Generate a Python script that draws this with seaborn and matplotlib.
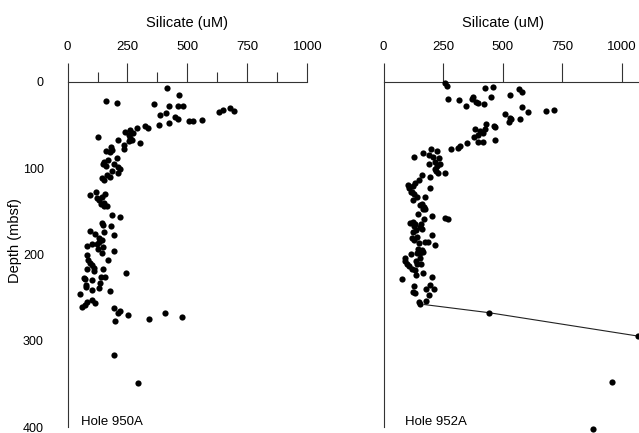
import numpy as np
import pandas as pd
import matplotlib
matplotlib.use("Agg")
import matplotlib.pyplot as plt
import matplotlib.transforms as mtransforms
from matplotlib.ticker import MultipleLocator, NullFormatter
import seaborn as sns

# ---- Data: Hole 950A ----
si_950 = [415, 464, 160, 208, 361, 424, 460, 481, 386, 411, 447, 460, 507, 524, 562, 631, 647, 678, 692,
          422, 382, 289, 321, 335, 239, 262, 271, 255, 129, 211, 262, 255, 269, 301, 235, 237, 180, 161,
          179, 185, 205, 154, 149, 161, 168, 193, 210, 186, 212, 217, 144, 165, 176, 154, 92, 120, 121,
          130, 145, 158, 154, 151, 164, 140, 186, 217, 143, 146, 182, 92, 115, 193, 151, 130, 142, 132,
          128, 146, 145, 121, 104, 82, 82, 193, 170, 87, 93, 103, 110, 112, 82, 70, 71, 104, 149, 139,
          158, 135, 132, 79, 75, 103, 176, 245, 53, 62, 71, 82, 103, 114, 193, 210, 218, 251, 199, 338,
          405, 476, 192, 294]
depth_950 = [6.6, 15.5, 21.6, 24, 25.5, 28.2, 27.8, 27.8, 38.6, 36.3, 40.6, 42.9, 45.6, 45.2, 44, 35, 32.5,
             29.8, 34, 47.5, 50.2, 53, 51, 53, 58, 56, 59.5, 61.4, 63.4, 67, 65, 68.4, 67, 71, 73, 78, 75.7,
             79.6, 81, 78.8, 87.7, 93, 95.4, 97.4, 90.4, 95, 99, 102.8, 105, 101, 111.7, 108.2, 110, 113.6,
             131, 128, 134.9, 136.8, 133.3, 130, 140.7, 143.8, 143.4, 141.8, 154.6, 156, 163.8, 165.4,
             167.3, 172.4, 176, 177, 174, 181, 183, 186, 193.6, 191, 198, 188, 188, 190, 200.6, 195.6, 206,
             206, 209.5, 212, 215.7, 218.8, 217, 227, 228.8, 229.6, 217, 225.7, 225.7, 233, 238.8, 235.7,
             237.3, 241, 242, 221, 245.4, 260.5, 258, 255, 252.8, 256.6, 262.4, 268, 265.9, 270, 277.5,
             275, 267.4, 273, 317, 348.6]

# ---- Data: Hole 952A ----
si_952 = [259, 266, 426, 459, 569, 583, 529, 450, 269, 316, 375, 371, 388, 396, 345, 423, 580, 605, 681,
          717, 508, 531, 537, 525, 573, 430, 463, 469, 382, 403, 419, 424, 378, 398, 416, 398, 469, 350,
          321, 311, 283, 200, 224, 164, 127, 190, 207, 232, 193, 216, 224, 235, 214, 221, 230, 258, 162,
          148, 196, 101, 105, 123, 133, 195, 120, 130, 115, 176, 123, 141, 162, 169, 155, 175, 165, 146,
          171, 203, 259, 272, 112, 123, 133, 127, 154, 138, 122, 157, 163, 203, 119, 126, 140, 176, 186,
          151, 217, 144, 163, 155, 139, 115, 164, 92, 92, 98, 106, 118, 137, 153, 140, 158, 134, 137, 164,
          77, 203, 129, 123, 133, 196, 179, 190, 211, 147, 155, 178, 441, 1066, 958, 877]
depth_952 = [1.5, 4.3, 6.6, 6.1, 8.5, 12, 14.7, 17, 19.3, 21.3, 17, 19.3, 23.2, 24.7, 27.8, 25.9, 28.6, 35.2,
             33.6, 32.5, 37.5, 42, 43.3, 46.4, 42.5, 48.7, 51, 52.2, 54.5, 56.4, 58.8, 54.8, 64, 61.4, 69.2,
             69.2, 66.9, 71, 74.2, 76.2, 78, 77.7, 79.6, 82.3, 86.6, 84.6, 86.6, 88, 95, 92.8, 97.4, 94.7,
             101, 102.8, 105, 105, 108, 113.6, 110.5, 119.4, 122.5, 120.2, 117.5, 123.3, 127, 130, 127, 133,
             136.8, 133.7, 141.4, 144.6, 143, 147.2, 146.9, 153, 159, 155, 157.7, 159, 163, 162.3, 164.6,
             167, 167.8, 171.6, 174, 164.6, 170, 177, 181, 183, 180, 185.9, 185.5, 186.3, 189.4, 193.6,
             194.8, 198, 198.6, 199, 197, 203.7, 207.5, 211, 213.7, 216.8, 207, 204.4, 211, 211.4, 218, 224,
             221.4, 228.4, 226.5, 237, 243, 245, 235, 239.7, 247.3, 240.4, 254.7, 257.4, 254.3, 267.4, 294.5,
             348, 402.7]

# connecting line (Hole 952A)
line_si_952 = [170, 441, 1066]
line_depth_952 = [258, 267.4, 294.5]

x_ticks = [0, 250, 500, 750, 1000]
y_ticks = [0, 100, 200, 300, 400]
x_title = "Silicate (uM)"
y_title = "Depth (mbsf)"
hole_labels = ["Hole 950A", "Hole 952A"]

df950 = pd.DataFrame({"si": si_950, "depth": depth_950})
df952 = pd.DataFrame({"si": si_952, "depth": depth_952})
dfline = pd.DataFrame({"si": line_si_952, "depth": line_depth_952})

sns.set_style("white")
plt.rcParams['font.family'] = ['Liberation Sans', 'DejaVu Sans']

W, H = 639, 433
fig = plt.figure(figsize=(W / 100, H / 100), dpi=100)
fig.patch.set_facecolor("white")

ax1 = fig.add_axes([67.5 / W, 6 / H, 240 / W, 345 / H])
ax2 = fig.add_axes([383.5 / W, 6 / H, 255.5 / W, 345 / H])

spine_col = "#333333"
for ax in (ax1, ax2):
    ax.set_facecolor("none")

sns.scatterplot(data=df950, x="si", y="depth", ax=ax1, color="black", s=20,
                linewidth=0, clip_on=False, legend=False)
sns.lineplot(data=dfline, x="si", y="depth", ax=ax2, color="#222222", linewidth=0.8,
             sort=False, estimator=None, clip_on=False, legend=False)
sns.scatterplot(data=df952, x="si", y="depth", ax=ax2, color="black", s=20,
                linewidth=0, clip_on=False, legend=False, zorder=3)

ax1.set_xlim(0, 1000)
ax2.set_xlim(0, 1072)
for ax in (ax1, ax2):
    ax.set_ylim(400, 0)
    ax.xaxis.set_ticks_position("top")
    ax.xaxis.set_label_position("top")
    ax.set_xticks(x_ticks)
    ax.set_xticklabels([str(t) for t in x_ticks])
    ax.set_yticks(y_ticks)
    ax.yaxis.set_minor_locator(MultipleLocator(50))
    ax.set_xlabel("")
    ax.set_ylabel("")
    for s in ("right", "bottom"):
        ax.spines[s].set_visible(False)
    for s in ("top", "left"):
        ax.spines[s].set_color(spine_col)
        ax.spines[s].set_linewidth(0.8)
    ax.tick_params(axis="x", which="major", direction="out", length=14, width=0.8,
                   color=spine_col, pad=7, labelsize=9.5, labelcolor="black",
                   top=True, bottom=False, labeltop=True, labelbottom=False)
    trans = mtransforms.blended_transform_factory(ax.transData, ax.transAxes)
    ax.text(500, 1.172, x_title, transform=trans, ha="center", va="center",
            fontsize=10.5, color="black")

ax1.xaxis.set_minor_locator(MultipleLocator(125))
ax1.tick_params(axis="x", which="minor", direction="out", length=7.5, width=0.8,
                color=spine_col, top=True, bottom=False)
ax1.tick_params(axis="y", which="major", direction="out", length=15, width=0.8,
                color=spine_col, pad=2, labelsize=9, labelcolor="black")
ax1.tick_params(axis="y", which="minor", direction="out", length=8, width=0.8,
                color=spine_col)
ax1.set_yticklabels([str(t) for t in y_ticks])
ax1.text(-0.218, 0.539, y_title, transform=ax1.transAxes, rotation=90,
         ha="center", va="center", fontsize=10.5, color="black")

ax2.tick_params(axis="y", which="major", direction="in", length=16, width=0.8,
                color=spine_col, labelleft=False)
ax2.tick_params(axis="y", which="minor", direction="in", length=8, width=0.8,
                color=spine_col)

ax1.text(55, 394, hole_labels[0], ha="left", va="center", fontsize=9.5, color="black")
ax2.text(90, 394, hole_labels[1], ha="left", va="center", fontsize=9.5, color="black")

fig.savefig("out.png", dpi=100, facecolor="white")
